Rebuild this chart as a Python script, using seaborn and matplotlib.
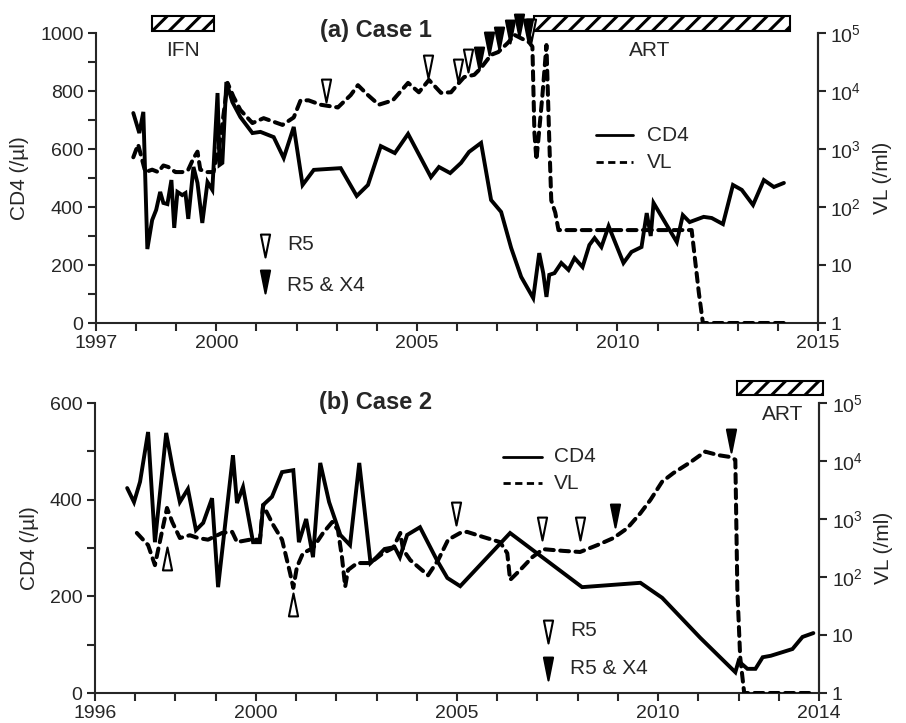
import matplotlib
matplotlib.use("Agg")
import matplotlib.pyplot as plt
from matplotlib.path import Path
from matplotlib.patches import Rectangle
import seaborn as sns

# ---------------- Case 1 ----------------
c1_cd4_year = [1997.93, 1998.08, 1998.18, 1998.28, 1998.40, 1998.50, 1998.60, 1998.68, 1998.78,
               1998.88, 1998.95, 1999.03, 1999.15, 1999.23, 1999.30, 1999.43, 1999.53, 1999.65,
               1999.78, 1999.90, 2000.03, 2000.08, 2000.15, 2000.25, 2000.40, 2000.60, 2000.90,
               2001.10, 2001.43, 2001.68, 2001.93, 2002.15, 2002.43, 2003.10, 2003.50, 2003.78,
               2004.10, 2004.45, 2004.78, 2005.35, 2005.55, 2005.83, 2006.10, 2006.30, 2006.60,
               2006.85, 2007.10, 2007.35, 2007.60, 2007.90, 2008.05, 2008.15, 2008.23, 2008.30,
               2008.43, 2008.60, 2008.78, 2008.93, 2009.13, 2009.30, 2009.43, 2009.60, 2009.78,
               2010.15, 2010.35, 2010.60, 2010.73, 2010.83, 2010.90, 2011.48, 2011.63, 2011.80,
               2012.15, 2012.35, 2012.63, 2012.88, 2013.10, 2013.38, 2013.65, 2013.90, 2014.15]
c1_cd4 = [724, 655, 728, 255, 355, 390, 452, 414, 410,
          493, 328, 452, 441, 448, 359, 538, 483, 345,
          486, 459, 793, 545, 552, 831, 762, 710, 655,
          659, 641, 569, 676, 476, 528, 534, 438, 476,
          610, 586, 652, 503, 538, 517, 552, 590, 621,
          424, 383, 259, 159, 86, 241, 172, 90, 166,
          172, 207, 183, 224, 193, 269, 293, 262, 334,
          207, 245, 262, 379, 300, 414, 279, 372, 348,
          366, 362, 341, 476, 459, 407, 493, 469, 483]
c1_vl_year = [1997.93, 1998.05, 1998.23, 1998.40, 1998.55, 1998.68, 1998.80, 1998.98, 1999.15,
              1999.30, 1999.43, 1999.53, 1999.60, 1999.78, 1999.93, 2000.10, 2000.28, 2000.43,
              2000.60, 2000.90, 2001.18, 2001.65, 2001.93, 2002.10, 2002.30, 2002.60, 2003.03,
              2003.35, 2003.53, 2003.78, 2004.05, 2004.40, 2004.78, 2005.05, 2005.30, 2005.60,
              2005.85, 2006.05, 2006.18, 2006.43, 2006.60, 2006.85, 2007.03, 2007.28, 2007.43,
              2007.60, 2007.80, 2007.88, 2007.93, 2007.98, 2008.05, 2008.13, 2008.23, 2008.30,
              2008.35, 2008.45, 2008.53, 2011.85, 2012.03, 2012.13, 2014.15]
c1_vl = [720, 1200, 400, 440, 400, 520, 490, 400, 400,
         440, 690, 900, 440, 400, 400, 1450, 13800, 7900,
         4700, 2800, 3400, 2600, 3500, 6900, 6900, 5800, 5200,
         8500, 12600, 8500, 5800, 6900, 13800, 9500, 15500, 9300,
         9500, 13800, 17400, 19000, 25000, 42000, 47000, 69000, 93000,
         81000, 69000, 58000, 1900, 650, 2100, 8500, 62000, 1450,
         130, 80, 40, 40, 3.3, 1, 1]
c1_r5_year = [2002.73, 2005.28, 2006.03, 2006.28, 2007.85]
c1_r5_vl = [6500, 16600, 14500, 21400, 69000]
c1_x4_year = [2006.55, 2006.80, 2007.05, 2007.33, 2007.55, 2007.78]
c1_x4_vl = [23000, 42000, 51000, 68000, 85000, 69000]
c1_ifn = (1998.4, 1999.95)
c1_art = (2007.93, 2014.3)

# ---------------- Case 2 ----------------
c2_cd4_year = [1996.80, 1996.97, 1997.12, 1997.32, 1997.49, 1997.77, 1997.94, 1998.11, 1998.31,
               1998.51, 1998.69, 1998.91, 1999.06, 1999.43, 1999.53, 1999.68, 1999.93, 2000.10,
               2000.18, 2000.40, 2000.65, 2000.93, 2001.07, 2001.25, 2001.42, 2001.60, 2001.82,
               2002.10, 2002.34, 2002.57, 2002.85, 2003.00, 2003.20, 2003.45, 2003.58, 2003.76,
               2004.08, 2004.50, 2004.76, 2005.08, 2006.32, 2008.11, 2009.56, 2010.10, 2011.05,
               2011.92, 2012.00, 2012.22, 2012.42, 2012.60, 2012.80, 2013.11, 2013.34, 2013.59,
               2013.86]
c2_cd4 = [424, 395, 437, 540, 312, 538, 461, 395, 422,
          337, 352, 403, 219, 492, 393, 426, 312, 312,
          389, 406, 457, 461, 312, 360, 281, 476, 395,
          327, 306, 476, 269, 281, 298, 302, 281, 327,
          343, 275, 238, 221, 331, 219, 228, 197, 114,
          43, 66, 50, 50, 74, 77, 85, 91, 116,
          124]
c2_vl_year = [1997.04, 1997.32, 1997.49, 1997.57, 1997.79, 1997.92, 1998.11, 1998.36, 1998.56,
              1998.81, 1999.16, 1999.41, 1999.53, 1999.85, 2000.10, 2000.18, 2000.43, 2000.65,
              2000.85, 2000.93, 2001.02, 2001.17, 2001.42, 2001.67, 2001.90, 2002.04, 2002.14,
              2002.22, 2002.29, 2002.52, 2002.84, 2003.16, 2003.41, 2003.59, 2003.66, 2003.84,
              2004.28, 2004.53, 2004.78, 2005.08, 2005.25, 2005.65, 2006.07, 2006.25, 2006.32,
              2006.57, 2006.87, 2007.14, 2007.64, 2008.06, 2008.49, 2008.89, 2009.23, 2009.56,
              2009.81, 2010.10, 2010.38, 2010.80, 2011.17, 2011.50, 2011.80, 2011.92, 2011.97,
              2012.04, 2012.14, 2013.91]
c2_vl = [575, 355, 160, 295, 1550, 890, 470, 525, 470,
         440, 575, 600, 400, 440, 440, 1740, 790, 440,
         117, 65, 148, 257, 316, 575, 890, 645, 219,
         68, 132, 174, 174, 257, 316, 575, 295, 195,
         107, 195, 440, 575, 600, 490, 400, 257, 89,
         132, 219, 302, 282, 270, 355, 470, 690, 1260,
         2140, 4400, 6200, 9500, 14500, 12600, 11700, 10500, 60,
         4.2, 1, 1]
c2_r5up_year = [1997.79, 2000.93]
c2_r5up_vl = [330, 52]
c2_r5_year = [2004.98, 2007.12, 2008.06]
c2_r5_vl = [790, 440, 440]
c2_x4_year = [2008.94, 2011.80]
c2_x4_vl = [720, 14500]
c2_art = (2011.97, 2014.09)

sns.set_style("ticks")
plt.rcParams['font.family'] = ['Liberation Sans', 'DejaVu Sans']
plt.rcParams['mathtext.default'] = 'regular'
plt.rcParams['hatch.linewidth'] = 2.2

# tall narrow triangles with the tip at the data point
TRI_DOWN = Path([(-0.2, 1.0), (0.2, 1.0), (0.0, 0.0), (-0.2, 1.0)],
                [Path.MOVETO, Path.LINETO, Path.LINETO, Path.CLOSEPOLY])
TRI_UP = Path([(-0.2, -1.0), (0.2, -1.0), (0.0, 0.0), (-0.2, -1.0)],
              [Path.MOVETO, Path.LINETO, Path.LINETO, Path.CLOSEPOLY])
DASH = (2.2, 1.6)
TRI_MS = 33


def setup_axes(ax, ax2, x0, x1, ymax, labelled):
    ax.set_xlim(x0, x1)
    ax.set_ylim(0, ymax)
    years = list(range(x0, x1 + 1))
    ax.set_xticks(years)
    ax.set_xticklabels([str(y) if y in labelled else "" for y in years])
    ax.set_yticks(range(0, ymax + 1, 200))
    ax.set_yticks(range(100, ymax, 200), minor=True)
    ax.tick_params(axis='both', which='both', direction='out', length=6, width=1.5,
                   labelsize=14, pad=3)
    ax.set_ylabel("CD4 (/µl)", fontsize=15, labelpad=8)
    ax.set_xlabel("")
    ax2.set_yscale('log')
    ax2.set_ylim(1, 1e5)
    ax2.set_yticks([1, 10, 100, 1000, 1e4, 1e5])
    ax2.set_yticklabels(["1", "10", "$10^2$", "$10^3$", "$10^4$", "$10^5$"])
    ax2.minorticks_off()
    ax2.tick_params(axis='y', direction='out', length=6, width=1.5, labelsize=14, pad=3)
    ax2.set_ylabel("VL (/ml)", fontsize=15, labelpad=8)
    for a in (ax, ax2):
        a.spines['top'].set_visible(False)
        for s in a.spines.values():
            s.set_linewidth(1.5)
    ax2.spines['left'].set_visible(False)
    ax2.spines['bottom'].set_visible(False)


def draw_lines(ax, ax2, cd4_x, cd4_y, vl_x, vl_y):
    sns.lineplot(x=cd4_x, y=cd4_y, ax=ax, sort=False, estimator=None, color='black',
                 lw=2.8, solid_joinstyle='miter')
    sns.lineplot(x=vl_x, y=vl_y, ax=ax2, sort=False, estimator=None, color='black',
                 lw=2.9, linestyle='--', dash_capstyle='round')
    ax2.lines[-1].set_dashes(DASH)


def triangles(ax2, xs, ys, marker, filled):
    ax2.plot(xs, ys, ls='none', marker=marker, ms=TRI_MS,
             mfc='black' if filled else 'white', mec='black', mew=1.5,
             clip_on=False, zorder=5)


def key(ax, x, y_open, y_fill, tx, ty_open, ty_fill):
    ax.plot([x], [y_open], transform=ax.transAxes, marker=TRI_DOWN, ms=TRI_MS, mfc='white',
            mec='black', mew=1.5, ls='none', clip_on=False)
    ax.plot([x], [y_fill], transform=ax.transAxes, marker=TRI_DOWN, ms=TRI_MS, mfc='black',
            mec='black', mew=1.5, ls='none', clip_on=False)
    ax.text(tx, ty_open, "R5", transform=ax.transAxes, fontsize=15, va='center')
    ax.text(tx, ty_fill, "R5 & X4", transform=ax.transAxes, fontsize=15, va='center')


def line_key(ax, x0, x1, y_cd4, y_vl, tx):
    ax.plot([x0, x1], [y_cd4, y_cd4], transform=ax.transAxes, color='black', lw=2)
    l, = ax.plot([x0, x1], [y_vl, y_vl], transform=ax.transAxes, color='black', lw=2, ls='--')
    l.set_dashes((2.6, 1.6))
    ax.text(tx, y_cd4, "CD4", transform=ax.transAxes, fontsize=15, va='center')
    ax.text(tx, y_vl, "VL", transform=ax.transAxes, fontsize=15, va='center')


def bar(ax, span, y0, y1, label, lx, ly):
    r = Rectangle((span[0], y0), span[1] - span[0], y1 - y0,
                  transform=ax.get_xaxis_transform(), facecolor='white', edgecolor='black',
                  hatch='//', lw=1.5, clip_on=False, zorder=6)
    ax.add_patch(r)
    ax.text(lx, ly, label, transform=ax.get_xaxis_transform(), fontsize=15,
            ha='center', va='center')


fig = plt.figure(figsize=(9.06, 7.23), dpi=100)

# ---- panel (a)
ax = fig.add_axes([96 / 906, 1 - 323 / 723, 722 / 906, 290 / 723])
ax2 = ax.twinx()
setup_axes(ax, ax2, 1997, 2015, 1000, [1997, 2000, 2005, 2010, 2015])
draw_lines(ax, ax2, c1_cd4_year, c1_cd4, c1_vl_year, c1_vl)
triangles(ax2, c1_r5_year, c1_r5_vl, TRI_DOWN, False)
triangles(ax2, c1_x4_year, c1_x4_vl, TRI_DOWN, True)
key(ax, 0.234, 0.228, 0.103, 0.265, 0.269, 0.131)
line_key(ax, 0.6925, 0.7438, 0.648, 0.555, 0.763)
bar(ax, c1_ifn, 1.007, 1.059, "IFN", 1999.17, 0.941)
bar(ax, c1_art, 1.007, 1.059, "ART", 2010.8, 0.941)
ax.text(0.388, 1.01, "(a) Case 1", transform=ax.transAxes, fontsize=17,
        fontweight='bold', ha='center', va='center')

# ---- panel (b)
bx = fig.add_axes([95 / 906, 1 - 693 / 723, 724 / 906, 290 / 723])
bx2 = bx.twinx()
setup_axes(bx, bx2, 1996, 2014, 600, [1996, 2000, 2005, 2010, 2014])
draw_lines(bx, bx2, c2_cd4_year, c2_cd4, c2_vl_year, c2_vl)
triangles(bx2, c2_r5up_year, c2_r5up_vl, TRI_UP, False)
triangles(bx2, c2_r5_year, c2_r5_vl, TRI_DOWN, False)
triangles(bx2, c2_x4_year, c2_x4_vl, TRI_DOWN, True)
key(bx, 0.626, 0.172, 0.045, 0.656, 0.217, 0.086)
line_key(bx, 0.5635, 0.617, 0.814, 0.724, 0.634)
bar(bx, c2_art, 1.028, 1.076, "ART", 2013.09, 0.959)
bx.text(0.388, 1.003, "(b) Case 2", transform=bx.transAxes, fontsize=17,
        fontweight='bold', ha='center', va='center')

fig.savefig("out.png", dpi=100)
